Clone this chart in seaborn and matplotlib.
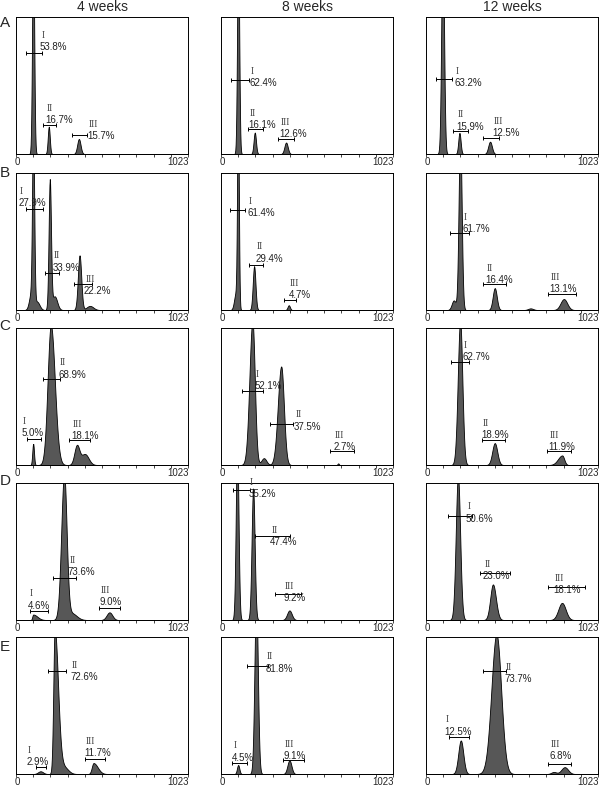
import numpy as np
import matplotlib
matplotlib.use("Agg")
import matplotlib.pyplot as plt
import matplotlib.transforms as mtransforms
import seaborn as sns

sns.set_style("white")
plt.rcParams['font.family'] = ['Liberation Sans', 'DejaVu Sans']

rows = ["A", "B", "C", "D", "E"]
weeks = ["4 weeks", "8 weeks", "12 weeks"]
roman = ["I", "II", "III"]

# peaks: (channel, height as fraction of y range, sigma left, sigma right), one list per column
peaks_A = [[(102, 1.6, 6, 6), (195, 0.20, 6, 6), (374, 0.11, 10, 10)],
           [(102, 1.6, 6, 6), (201, 0.157, 7, 7), (387, 0.084, 10, 10)],
           [(99, 1.6, 8, 8), (199, 0.154, 7, 7), (381, 0.09, 11, 11)]]
peaks_B = [[(102, 1.3, 6, 6), (90, 0.12, 12, 12), (125, 0.06, 15, 15), (201, 0.94, 7, 7),
            (230, 0.1, 15, 15), (378, 0.4, 10, 10), (440, 0.03, 20, 20)],
           [(101, 1.5, 5, 5), (88, 0.12, 10, 10), (197, 0.32, 8, 8), (403, 0.035, 7, 7)],
           [(203, 1.3, 9, 9), (165, 0.07, 12, 12), (409, 0.16, 12, 12), (622, 0.012, 15, 15),
            (820, 0.08, 20, 20)]]
peaks_C = [[(102, 0.157, 5, 5), (207, 1.02, 19, 24), (362, 0.14, 15, 15), (410, 0.08, 22, 22)],
           [(187, 1.05, 18, 14), (255, 0.05, 15, 15), (358, 0.72, 20, 16), (697, 0.012, 4, 4)],
           [(203, 1.05, 14, 13), (409, 0.16, 15, 15), (810, 0.07, 25, 12)]]
peaks_D = [[(102, 0.04, 5, 25), (286, 1.05, 17, 15), (330, 0.05, 30, 30), (556, 0.056, 17, 17)],
           [(96, 1.3, 8, 8), (191, 0.96, 9, 9), (407, 0.07, 14, 14)],
           [(190, 1.05, 13, 13), (398, 0.26, 16, 18), (809, 0.125, 22, 22)]]
peaks_E = [[(146, 0.02, 15, 15), (230, 1.05, 8, 20), (285, 0.05, 25, 25), (461, 0.08, 10, 25)],
           [(102, 0.066, 7, 7), (209, 1.3, 10, 10), (407, 0.1, 12, 12)],
           [(207, 0.245, 15, 15), (419, 1.02, 30, 28), (760, 0.015, 15, 15), (825, 0.05, 20, 20)]]

# gates (channel ranges) and percentages
gates_A = [[(59, 152), (161, 237), (335, 422)], [(60, 166), (162, 247), (341, 435)], [(58, 157), (163, 248), (338, 437)]]
gates_B = [[(59, 162), (171, 256), (343, 453)], [(52, 141), (167, 248), (375, 449)], [(142, 257), (338, 474), (723, 891)]]
gates_C = [[(63, 146), (158, 264), (313, 443)], [(127, 248), (294, 429), (650, 791)], [(146, 257), (332, 470), (719, 865)]]
gates_D = [[(83, 191), (221, 355), (492, 621)], [(72, 173), (203, 413), (323, 473)], [(131, 274), (321, 500), (726, 946)]]
gates_E = [[(118, 181), (191, 299), (408, 532)], [(66, 156), (156, 281), (371, 491)], [(136, 257), (338, 474), (727, 865)]]

pct_A = [[53.8, 16.7, 15.7], [62.4, 16.1, 12.6], [63.2, 15.9, 12.5]]
pct_B = [[27.9, 33.9, 22.2], [61.4, 29.4, 4.7], [61.7, 16.4, 13.1]]
pct_C = [[5.0, 68.9, 18.1], [52.1, 37.5, 2.7], [62.7, 18.9, 11.9]]
pct_D = [[4.6, 73.6, 9.0], [35.2, 47.4, 9.2], [50.6, 23.0, 18.1]]
pct_E = [[2.9, 72.6, 11.7], [4.5, 81.8, 9.1], [12.5, 73.7, 6.8]]

# layout: gate bar heights and label anchors
gate_y_A = [[0.74, 0.21, 0.14], [0.54, 0.18, 0.11], [0.55, 0.17, 0.115]]
gate_y_B = [[0.74, 0.27, 0.19], [0.73, 0.33, 0.07], [0.56, 0.19, 0.12]]
gate_y_C = [[0.19, 0.63, 0.18], [0.54, 0.30, 0.10], [0.75, 0.18, 0.10]]
gate_y_D = [[0.066, 0.31, 0.09], [0.95, 0.61, 0.19], [0.76, 0.34, 0.24]]
gate_y_E = [[0.05, 0.75, 0.11], [0.08, 0.79, 0.10], [0.27, 0.755, 0.075]]

text_A = [[(142, 0.78), (177, 0.25), (422, 0.13)], [(171, 0.52), (162, 0.21), (349, 0.145)], [(167, 0.52), (179, 0.20), (397, 0.15)]]
text_B = [[(14, 0.78), (217, 0.31), (404, 0.14)], [(157, 0.71), (207, 0.375), (403, 0.11)], [(217, 0.59), (353, 0.22), (733, 0.15)]]
text_C = [[(33, 0.23), (250, 0.66), (329, 0.21)], [(201, 0.575), (435, 0.28), (671, 0.13)], [(217, 0.79), (328, 0.22), (727, 0.13)]]
text_D = [[(73, 0.105), (309, 0.35), (496, 0.13)], [(162, 0.92), (293, 0.57), (371, 0.16)], [(238, 0.74), (339, 0.32), (755, 0.22)]]
text_E = [[(63, 0.09), (323, 0.71), (408, 0.15)], [(66, 0.12), (263, 0.77), (371, 0.13)], [(109, 0.31), (466, 0.69), (733, 0.13)]]

peaks = dict(zip(rows, [peaks_A, peaks_B, peaks_C, peaks_D, peaks_E]))
gates = dict(zip(rows, [gates_A, gates_B, gates_C, gates_D, gates_E]))
pcts = dict(zip(rows, [pct_A, pct_B, pct_C, pct_D, pct_E]))
gate_ys = dict(zip(rows, [gate_y_A, gate_y_B, gate_y_C, gate_y_D, gate_y_E]))
texts = dict(zip(rows, [text_A, text_B, text_C, text_D, text_E]))

W, H = 600, 787
col_left = [16, 221, 426]
ax_w = 172
row_bottom = [154, 310, 465, 620, 774]
ax_h = 137
letter_y = [23, 173, 326, 481, 647]

channels = np.arange(0, 1024, 2) + 1.0


def draw_panel(fig, ax, pk, gt, pc, gy, tx):
    counts = np.zeros_like(channels)
    for c, h, sl, sr in pk:
        s = np.where(channels < c, sl, sr)
        counts += h * np.exp(-0.5 * ((channels - c) / s) ** 2)
    sns.histplot(x=channels, weights=counts, bins=len(channels), binrange=(0, 1024),
                 element="poly", fill=True, color="#575757", alpha=1,
                 edgecolor="black", linewidth=0.6, ax=ax)
    for i in range(3):
        lo, hi = gt[i]
        ax.plot([lo, hi], [gy[i], gy[i]], color="black", lw=0.7)
        ax.plot([lo, hi], [gy[i], gy[i]], ls="none", marker="|", ms=3.5, mew=0.7, color="black")
        x, y = tx[i]
        ax.text(x, y, f"{pc[i]:.1f}%", fontsize=7, ha="left", va="center", color="#222222")
        ax.text(x + 8, y + 0.085, roman[i], fontsize=7, ha="left", va="center",
                family=["Liberation Serif", "DejaVu Serif"], color="#444444")
    ax.set_xlim(0, 1023)
    ax.set_ylim(0, 1)
    ax.set_xticks(np.linspace(0, 1023, 11))
    ax.set_xticklabels(["0"] + [""] * 9 + ["1023"])
    ax.set_yticks([])
    ax.set_xlabel("")
    ax.set_ylabel("")
    ax.tick_params(axis="x", length=2, width=0.6, pad=0.3, labelsize=7, bottom=True, direction="out")
    labels = ax.get_xticklabels()
    labels[0].set_horizontalalignment("left")
    labels[-1].set_horizontalalignment("right")
    labels[0].set_transform(labels[0].get_transform() + mtransforms.ScaledTranslation(-1 / 100, 0, fig.dpi_scale_trans))
    labels[-1].set_transform(labels[-1].get_transform() + mtransforms.ScaledTranslation(1 / 100, 0, fig.dpi_scale_trans))
    for sp in ax.spines.values():
        sp.set_color("black")
        sp.set_linewidth(0.7)


fig = plt.figure(figsize=(W / 100, H / 100), dpi=100)
for r, row in enumerate(rows):
    for c in range(3):
        ax = fig.add_axes([col_left[c] / W, 1 - row_bottom[r] / H, ax_w / W, ax_h / H])
        draw_panel(fig, ax, peaks[row][c], gates[row][c], pcts[row][c], gate_ys[row][c], texts[row][c])
        if r == 0:
            fig.text((col_left[c] + ax_w / 2) / W, 1 - 7 / H, weeks[c], ha="center", va="center", fontsize=10)
    fig.text(5 / W, 1 - letter_y[r] / H, row, ha="center", va="center", fontsize=11)

fig.savefig("out.png", dpi=100, facecolor="white")
